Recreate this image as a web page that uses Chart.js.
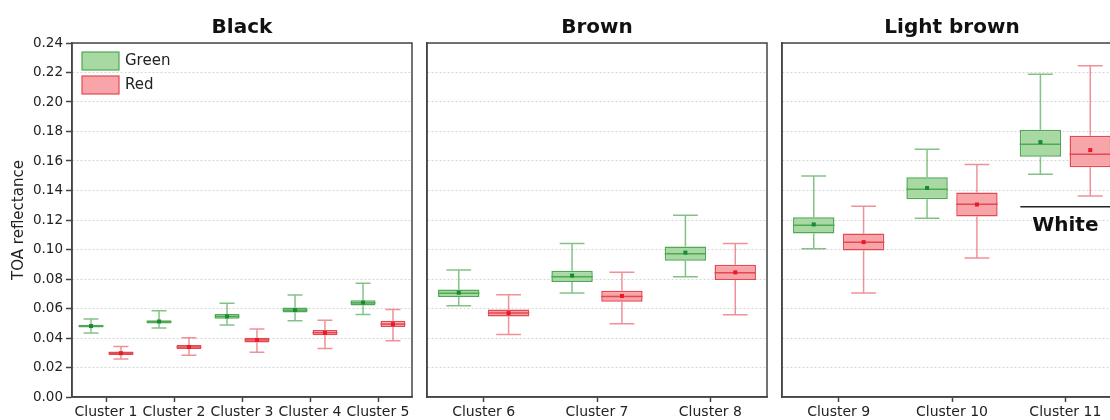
<!DOCTYPE html>
<html>
<head>
<meta charset="utf-8">
<script src="https://cdn.jsdelivr.net/npm/chart.js@4.4.1/dist/chart.umd.min.js"></script>
<style>
  html, body { margin: 0; padding: 0; background: #fff; overflow: hidden; }
  #wrap { position: relative; width: 1110px; height: 420px; overflow: hidden; }
  canvas { position: absolute; top: 0; }
</style>
</head>
<body>
<div id="wrap">
  <canvas id="panel0" width="414" height="420" style="left:0px"></canvas>
  <canvas id="panel1" width="355" height="420" style="left:414px"></canvas>
  <canvas id="panel2" width="355" height="420" style="left:769px"></canvas>
</div>
<script>
// ---- data: TOA reflectance box statistics per cluster ----
const clusters = ['Cluster 1', 'Cluster 2', 'Cluster 3', 'Cluster 4', 'Cluster 5',
                  'Cluster 6', 'Cluster 7', 'Cluster 8', 'Cluster 9', 'Cluster 10', 'Cluster 11'];
const panelTitles = ['Black', 'Brown', 'Light brown'];
const panelSizes = [5, 3, 3];

const greenMin    = [0.0434, 0.0467, 0.0488, 0.0517, 0.0560, 0.0619, 0.0705, 0.0816, 0.1005, 0.1212, 0.1510];
const greenQ1     = [0.0472, 0.0499, 0.0530, 0.0573, 0.0620, 0.0678, 0.0780, 0.0924, 0.1109, 0.1341, 0.1629];
const greenMedian = [0.0481, 0.0510, 0.0546, 0.0589, 0.0638, 0.0703, 0.0816, 0.0972, 0.1165, 0.1408, 0.1713];
const greenQ3     = [0.0490, 0.0521, 0.0562, 0.0607, 0.0656, 0.0728, 0.0856, 0.1021, 0.1219, 0.1490, 0.1812];
const greenMax    = [0.0528, 0.0584, 0.0636, 0.0692, 0.0771, 0.0861, 0.1040, 0.1232, 0.1499, 0.1679, 0.2188];
const greenMean   = [0.0481, 0.0512, 0.0546, 0.0589, 0.0640, 0.0707, 0.0823, 0.0979, 0.1170, 0.1417, 0.1728];

const redMin      = [0.0258, 0.0283, 0.0303, 0.0328, 0.0382, 0.0423, 0.0497, 0.0558, 0.0705, 0.0942, 0.1363];
const redQ1       = [0.0285, 0.0326, 0.0369, 0.0418, 0.0474, 0.0545, 0.0646, 0.0793, 0.0994, 0.1224, 0.1557];
const redMedian   = [0.0297, 0.0339, 0.0387, 0.0436, 0.0494, 0.0569, 0.0682, 0.0843, 0.1050, 0.1307, 0.1645];
const redQ3       = [0.0308, 0.0353, 0.0402, 0.0454, 0.0517, 0.0594, 0.0721, 0.0897, 0.1109, 0.1386, 0.1771];
const redMax      = [0.0342, 0.0402, 0.0461, 0.0521, 0.0593, 0.0694, 0.0845, 0.1040, 0.1294, 0.1577, 0.2245];
const redMean     = [0.0297, 0.0339, 0.0387, 0.0434, 0.0494, 0.0569, 0.0685, 0.0845, 0.1050, 0.1305, 0.1674];

const yTicksMin = 0, yTicksMax = 0.24, yTicksStep = 0.02;
const yAxisTitle = 'TOA reflectance';
const whiteLabel = 'White';
const whiteLineValue = 0.129;

// ---- styling ----
Chart.defaults.font.family = "'DejaVu Sans', Verdana, sans-serif";
Chart.defaults.color = '#222';

const seriesStyle = {
  Green: { fill: 'rgb(168,217,163)', stroke: 'rgb(78,168,84)', whisker: 'rgba(78,168,84,0.7)', mean: 'rgb(22,138,52)' },
  Red:   { fill: 'rgb(247,165,168)', stroke: 'rgb(228,72,82)', whisker: 'rgba(228,72,82,0.6)', mean: 'rgb(236,24,38)' }
};
const frameColor = '#444';

function makeDataset(label, q1, q3, min, median, max, mean, start, count) {
  const sl = a => a.slice(start, start + count);
  const st = seriesStyle[label];
  return {
    label,
    data: sl(q1).map((v, i) => [v, sl(q3)[i]]),
    stats: { min: sl(min), median: sl(median), max: sl(max), mean: sl(mean) },
    backgroundColor: st.fill,
    borderColor: st.stroke,
    borderWidth: 1.5,
    borderSkipped: false,
    categoryPercentage: 0.88,
    barPercentage: 0.83
  };
}

// whiskers, medians, means, frame and annotations
const boxPlugin = {
  id: 'boxStats',
  beforeDatasetsDraw(chart) {
    const { ctx } = chart;
    const y = chart.scales.y;
    chart.data.datasets.forEach((ds, di) => {
      const st = seriesStyle[ds.label];
      chart.getDatasetMeta(di).data.forEach((bar, i) => {
        const { x, width } = bar.getProps(['x', 'width'], true);
        const cap = width * 0.3;
        const yMin = y.getPixelForValue(ds.stats.min[i]);
        const yMax = y.getPixelForValue(ds.stats.max[i]);
        const yQ1 = y.getPixelForValue(ds.data[i][0]);
        const yQ3 = y.getPixelForValue(ds.data[i][1]);
        ctx.save();
        ctx.strokeStyle = st.whisker;
        ctx.lineWidth = 1.5;
        ctx.beginPath();
        ctx.moveTo(x, yQ3); ctx.lineTo(x, yMax);
        ctx.moveTo(x, yQ1); ctx.lineTo(x, yMin);
        ctx.moveTo(x - cap, yMax); ctx.lineTo(x + cap, yMax);
        ctx.moveTo(x - cap, yMin); ctx.lineTo(x + cap, yMin);
        ctx.stroke();
        ctx.restore();
      });
    });
  },
  afterDatasetsDraw(chart) {
    const { ctx } = chart;
    const y = chart.scales.y;
    chart.data.datasets.forEach((ds, di) => {
      const st = seriesStyle[ds.label];
      chart.getDatasetMeta(di).data.forEach((bar, i) => {
        const { x, width } = bar.getProps(['x', 'width'], true);
        const yMed = y.getPixelForValue(ds.stats.median[i]);
        const yMean = y.getPixelForValue(ds.stats.mean[i]);
        ctx.save();
        ctx.strokeStyle = st.stroke;
        ctx.lineWidth = 1.5;
        ctx.beginPath();
        ctx.moveTo(x - width / 2, yMed); ctx.lineTo(x + width / 2, yMed);
        ctx.stroke();
        ctx.fillStyle = st.mean;
        ctx.fillRect(x - 2, yMean - 2, 4, 4);
        ctx.restore();
      });
    });
  },
  afterDraw(chart, args, opts) {
    const { ctx, chartArea: ca } = chart;
    ctx.save();
    // plot frame
    ctx.strokeStyle = frameColor;
    ctx.lineWidth = 1.5;
    ctx.strokeRect(ca.left, ca.top, ca.right - ca.left, ca.bottom - ca.top);
    // panel title
    ctx.fillStyle = '#111';
    ctx.font = "bold 20px 'DejaVu Sans', Verdana, sans-serif";
    ctx.textAlign = 'center';
    ctx.textBaseline = 'alphabetic';
    ctx.fillText(opts.title, (ca.left + ca.right) / 2, 33);

    if (opts.legend) {
      ctx.font = "15px 'DejaVu Sans', Verdana, sans-serif";
      ctx.textAlign = 'left';
      ctx.textBaseline = 'middle';
      chart.data.datasets.forEach((ds, di) => {
        const st = seriesStyle[ds.label];
        const bx = ca.left + 10, by = ca.top + 9 + di * 24;
        ctx.fillStyle = st.fill;
        ctx.fillRect(bx, by, 37, 18);
        ctx.strokeStyle = st.stroke;
        ctx.lineWidth = 1.2;
        ctx.strokeRect(bx, by, 37, 18);
        ctx.fillStyle = '#222';
        ctx.fillText(ds.label, bx + 43, by + 9.5);
      });
    }

    if (opts.whiteNote) {
      const xLast = chart.scales.x.getPixelForValue(chart.data.labels.length - 1);
      const yLine = chart.scales.y.getPixelForValue(whiteLineValue);
      ctx.strokeStyle = '#222';
      ctx.lineWidth = 1.5;
      ctx.beginPath();
      ctx.moveTo(xLast - 45, yLine);
      ctx.lineTo(ca.right + 10, yLine);
      ctx.stroke();
      ctx.fillStyle = '#111';
      ctx.font = "bold 20px 'DejaVu Sans', Verdana, sans-serif";
      ctx.textAlign = 'center';
      ctx.textBaseline = 'alphabetic';
      ctx.fillText(whiteLabel, xLast, yLine + 24);
    }
    ctx.restore();
  }
};

function buildPanel(canvasId, p, start, yAxisWidth) {
  const count = panelSizes[p];
  const first = p === 0;
  return new Chart(document.getElementById(canvasId), {
    type: 'bar',
    data: {
      labels: clusters.slice(start, start + count),
      datasets: [
        makeDataset('Green', greenQ1, greenQ3, greenMin, greenMedian, greenMax, greenMean, start, count),
        makeDataset('Red', redQ1, redQ3, redMin, redMedian, redMax, redMean, start, count)
      ]
    },
    options: {
      responsive: false,
      devicePixelRatio: 1,
      animation: false,
      layout: { padding: { top: 43, right: 2, left: 0, bottom: 0 } },
      plugins: {
        legend: { display: false },
        tooltip: { enabled: false },
        boxStats: { title: panelTitles[p], legend: first, whiteNote: p === 2 }
      },
      scales: {
        x: {
          type: 'category',
          grid: { display: true, drawOnChartArea: false, offset: false, tickLength: 5, tickColor: frameColor, tickWidth: 1.5 },
          border: { display: true, color: frameColor, width: 1.5 },
          ticks: { color: '#222', font: { size: 14 }, padding: 2, maxRotation: 0, autoSkip: false },
          afterFit(s) { s.height = 23; }
        },
        y: {
          min: yTicksMin,
          max: yTicksMax,
          ticks: {
            display: first,
            stepSize: yTicksStep,
            color: '#222',
            font: { size: 13.5 },
            padding: 3,
            callback: v => Number(v).toFixed(2)
          },
          grid: { color: '#d6d6d6', lineWidth: 1, drawTicks: first, tickLength: 6, tickColor: frameColor, tickWidth: 1.5, tickBorderDash: [] },
          border: { display: true, color: frameColor, width: 1.5, dash: [2, 2] },
          title: { display: first, text: yAxisTitle, color: '#222', font: { size: 15 }, padding: { top: 10, bottom: 0 } },
          afterFit(s) { s.width = yAxisWidth; }
        }
      }
    },
    plugins: [boxPlugin]
  });
}

buildPanel('panel0', 0, 0, 72);
buildPanel('panel1', 1, 5, 13);
buildPanel('panel2', 2, 8, 13);
</script>
</body>
</html>
